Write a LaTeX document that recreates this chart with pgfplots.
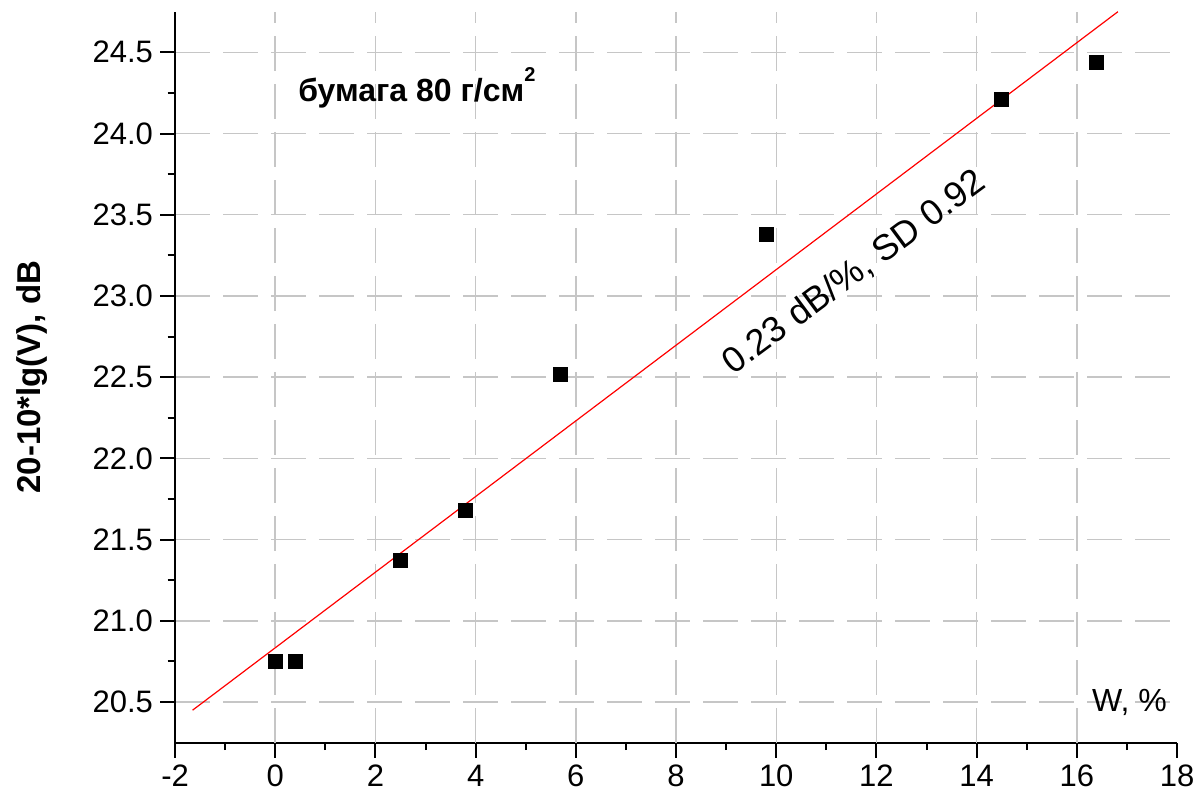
\documentclass[border=0pt]{standalone}
\usepackage{fontspec}
\setmainfont{Liberation Sans}
\usepackage{pgfplots}
\pgfplotsset{compat=1.18}
\begin{document}
\begin{tikzpicture}
\begin{axis}[
 scale only axis, width=501pt, height=365.5pt,
 xmin=-2, xmax=18, ymin=20.25, ymax=24.75,
 axis x line*=bottom, axis y line*=left,
 axis line style={line width=1pt, -},
 xtick={-2,0,...,18}, ytick={20.5,21,...,24.5},
 minor x tick num=1, minor y tick num=1,
 tick align=outside,
 major tick length=7.5pt, minor tick length=3.75pt,
 every tick/.style={line width=1pt, black},
 ymajorgrids,
 extra x ticks={0,2,...,16}, extra x tick labels={},
 extra x tick style={grid=major, major tick length=0pt},
 major grid style={gray!45, line width=0.75pt, dash pattern=on 17.5pt off 6.5pt},
 y tick label style={/pgf/number format/.cd, fixed, fixed zerofill, precision=1, /tikz/.cd, font=\fontsize{15.5}{18}\selectfont},
 x tick label style={font=\fontsize{15.5}{18}\selectfont},
 /pgf/number format/assume math mode=true,
 ylabel={\bfseries 20-10*lg(V), dB},
 ylabel style={font=\fontsize{16.5}{19}\selectfont, at={(axis description cs:-0.143,0.5)}, anchor=center},
 clip=false,
]
\path (rel axis cs:-0.1747,-0.0715) rectangle (rel axis cs:1.0269,1.016);
\addplot[red, line width=0.6pt] coordinates {(-1.65,20.45) (16.82,24.75)};
\addplot[only marks, mark=square*, mark size=3.5pt, black] coordinates {(0,20.75)(0.4,20.75)(2.5,21.37)(3.8,21.68)(5.7,22.52)(9.8,23.38)(14.5,24.21)(16.4,24.44)};
\node[anchor=west, font=\fontsize{16}{19}\selectfont\bfseries] at (axis cs:0.32,24.28) {бумага 80 г/см\raisebox{0.62em}{\fontsize{10}{12}\selectfont 2}};
\node[font=\fontsize{16}{19}\selectfont] at (axis cs:17.05,20.5) {W, \%};
\node[rotate=36.5, font=\fontsize{18}{21}\selectfont] at (axis cs:11.56,23.145) {0.23 dB/\%, SD 0.92};
\end{axis}
\end{tikzpicture}
\end{document}
